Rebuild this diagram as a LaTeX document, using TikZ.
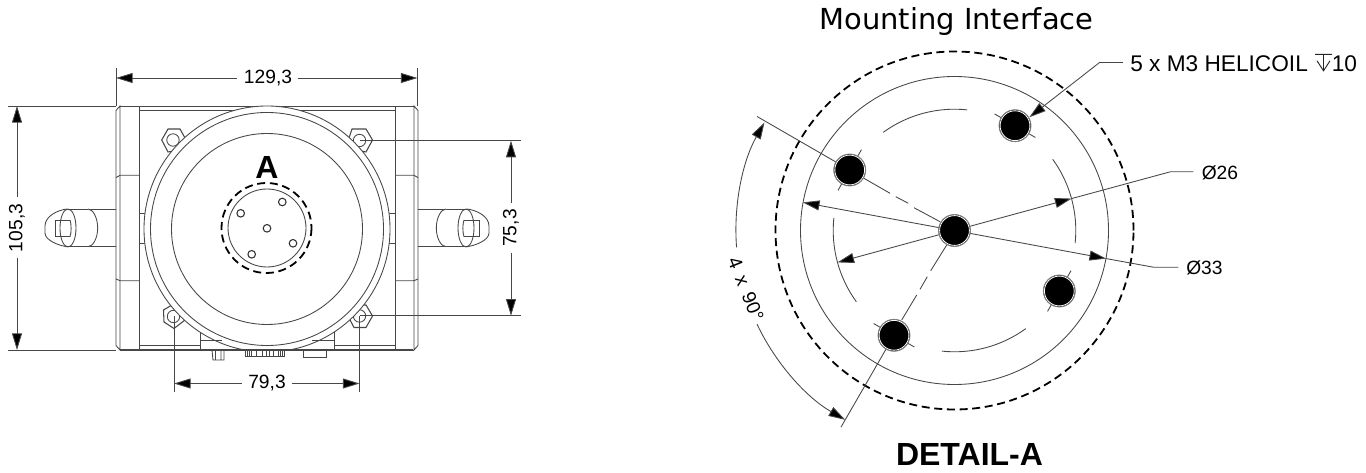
\documentclass[tikz,border=0pt]{standalone}
\usepackage{fontspec}
\setmainfont{Liberation Sans}
\newfontfamily\dvfont{DejaVu Sans}
\usetikzlibrary{arrows.meta,calc}
\tikzset{
  thin line/.style={draw=black!72,line width=0.65pt},
  dim line/.style={draw=black!72,line width=0.65pt},
  dim arrow/.style={dim line,-{Triangle[length=12.5pt,width=7.5pt,fill=black]}},
  dim text/.style={font=\fontsize{14.4}{16}\selectfont,inner sep=0pt},
  dashed ring/.style={draw=black,line width=1.35pt,dash pattern=on 6pt off 3.5pt},
  hole disc/.style={draw=black!50,line width=0.6pt,fill=black},
  hole gap/.style={draw=white,line width=0.6pt},
}
\newcommand{\dia}{Ø}
\begin{document}
\begin{tikzpicture}[x=0.75pt,y=-0.75pt]
\useasboundingbox (0,0) rectangle (1366,473);
% ---------- left view: body ----------
\foreach \x/\f in {0/1,534/-1}{
\begin{scope}[shift={(\x,0)},xscale=\f]
  \draw[thin line] (116,110.5)--(120,106)--(120,350)--(116,345.5)--cycle;
  \draw[thin line] (139,106)--(139,350);
  \draw[thin line] (120,106)--(139,106) (120,350)--(139,350);
  \draw[thin line] (116,177.6)--(120,175.3)--(139,175.3);
  \draw[thin line] (116,279)--(120,280.7)--(139,280.7);
  \draw[thin line] (139,106)--(267,106);
  \draw[thin line] (139,110.6)--(267,110.6);
  \draw[thin line] (139,213)--(146,213) (139,243)--(146,243);
  \draw[thin line] (139,345.7)--(200,345.7);
  \draw[thin line] (200,350)--(200,332);
  % handle
  \draw[thin line] (116,209)--(67,209) (116,246.7)--(67,246.7);
  \draw[thin line,fill=white] (88,209) .. controls (93,209) and (97.7,218) .. (97.7,228) .. controls (97.7,238) and (93,246.7) .. (88,246.7);
  \draw[thin line] (67,209) .. controls (58,210) and (45,216) .. (45,226) -- (45,233) .. controls (45,240) and (58,245.5) .. (67,246.7);
  \draw[thin line] (68,228) ellipse (8 and 19);
  \draw[thin line] (70,220) -- (55,220) -- (55,236.7) -- (70,236.7);
  \draw[thin line] (70,220) .. controls (71.5,224) and (71.5,233) .. (70,236.7);
\end{scope}}
% nuts
\draw[thin line,line width=0.8pt] (173,129)--(180,129)--(185,138)--(180,150)--(168,152)--(161.7,140)--(168,129)--cycle;
\draw[thin line] (173,140) circle (6.2);
\draw[thin line,line width=0.8pt] (352,129)--(366,129)--(372.5,140)--(366,152)--(355,150)--(349,138)--cycle;
\draw[thin line] (359.5,140.5) circle (6.2);
\draw[thin line,line width=0.8pt] (163.5,310)--(172,305)--(180,306)--(185,320)--(174,328.5)--(164,322)--cycle;
\draw[thin line] (173.5,316.5) circle (6.2);
\draw[thin line,line width=0.8pt] (349,318)--(358,305)--(366,305)--(372.5,316)--(366,327.5)--(354,327.5)--cycle;
\draw[thin line] (359.5,316) circle (6.2);
% round housing
\draw[thin line,fill=white] (267,229) circle (123);
\draw[thin line] (267,229) circle (116.5);
\draw[thin line] (267,229) circle (95.5);
\fill[white] (200,351) rectangle (334,353);
\draw[thin line] (200,340)--(222,340) (312,340)--(334,340);
\draw[thin line,line width=0.9pt] (120,350)--(413,350);
% bottom connectors
\draw[thin line] (212,350)--(213,360)--(224,360)--(224,350) (215.5,350)--(215.5,360) (221,350)--(221,360);
\draw[thin line] (245,350) rectangle (284,356);
\foreach \x in {247,249,251,256,262,266,269.5,273,278,280,282}{\draw[thin line] (\x,350)--(\x,356);}
\draw[thin line] (303,350) rectangle (326,357.5);
% detail A
\draw[dashed ring] (266.5,228) circle (45);
\draw[thin line] (267,228) circle (39);
\foreach \p/\q in {267/228.3,282.3/202,240.7/213.3,293/243.3,251.7/254.3}{
  \draw[draw=black!80,line width=0.8pt] (\p,\q) circle (3.8);}
\node[font=\bfseries\fontsize{24}{26}\selectfont,inner sep=0pt] (labelA) at (267,167) {A};
% ---------- left view: dimensions ----------
\coordinate (wa) at (116,78); \coordinate (wb) at (417.5,78);
\coordinate (wa0) at (116,68); \coordinate (wb0) at (417.5,68);
\coordinate (wa1) at (116,106); \coordinate (wb1) at (417.5,106);
\node[dim text] (w) at (268,78) {129,3};
\draw[dim line] (wa0)--(wa1) (wb0)--(wb1);
\draw[dim arrow] (236.5,78)--(wa);
\draw[dim arrow] (297.5,78)--(wb);
\coordinate (ha) at (17,106); \coordinate (hb) at (17,350);
\draw[dim line] (8,106)--(116,106) (8,350)--(116,350);
\node[dim text,rotate=90] (h) at (17,228) {105,3};
\draw[dim arrow] (17,197)--(ha);
\draw[dim arrow] (17,258)--(hb);
\coordinate (va) at (511,140.7); \coordinate (vb) at (511,315.7);
\draw[dim line] (359.5,140.7)--(520.7,140.7) (360,315.7)--(520.7,315.7);
\node[dim text,rotate=90] (v) at (511,228) {75,3};
\draw[dim arrow] (511,203)--(va);
\draw[dim arrow] (511,253)--(vb);
\coordinate (ba) at (174,383.5); \coordinate (bb) at (359.5,383.5);
\draw[dim line] (174,316.5)--(174,392.5) (359.5,316)--(359.5,392.5);
\node[dim text] (b) at (267,383.5) {79,3};
\draw[dim arrow] (241.5,383.5)--(ba);
\draw[dim arrow] (291.5,383.5)--(bb);
% ---------- detail ----------
\coordinate (c0) at (954.5,230.5);
\begin{scope}[shift={(954.5,230.5)},y=0.75pt]
  \draw[dashed ring] (0,0) circle (179);
  \draw[thin line] (0,0) circle (154);
  \foreach \a in {84,174,264,354}{\draw[thin line] (\a:121.3) arc[start angle=\a,end angle=\a+42,radius=121.3];}
  \draw[dim arrow] (184.4:218.6) arc[start angle=184.4,end angle=150.4,radius=218.6];
  \draw[dim arrow] (205.4:218.6) arc[start angle=205.4,end angle=240,radius=218.6];
\end{scope}
% holes and centre marks
\foreach \a/\n in {60/h1,150/h2,240/h3,330/h4}{
  \coordinate (\n) at ($(c0)+({121*cos(\a)},{-121*sin(\a)})$);
  \draw[thin line] ($(\n)+({23.5*cos(\a+90)},{-23.5*sin(\a+90)})$)--($(\n)-({23.5*cos(\a+90)},{-23.5*sin(\a+90)})$);
}
% radial centre lines
\draw[thin line] (940,221.7)--(914,207.7) (908.3,203.3)--(895.7,196.7) (890,193.3)--(864,178.3);
\draw[thin line] (946.7,245)--(930.7,270.7) (927.3,276.7)--(920,289.3) (916.7,295)--(901.7,320);
\coordinate (ra) at ($(c0)+(-150:228)$); \coordinate (ra0) at ($(c0)+(-150:136)$);
\coordinate (rb) at ($(c0)+(-240:227)$); \coordinate (rb0) at ($(c0)+(-240:136)$);
\draw[thin line] (ra0)--(ra) (rb0)--(rb);
\foreach \n in {h1,h2,h3,h4}{
  \draw[hole disc] (\n) circle (16);
  \draw[hole gap] (\n) circle (14.9);
}
\node[dim text,rotate=-68] (ang) at (746,289) {4 \,x\, 90°};
% diameter dims
\coordinate (d1) at (1170.7,171.7); \coordinate (d1t) at ($(c0)+(-15.25:121.3)$); \coordinate (d1l) at ($(c0)+(-195.25:121.3)$);
\coordinate (d2) at (1154,267.3); \coordinate (d2t) at ($(c0)+(10.5:154.2)$); \coordinate (d2l) at ($(c0)+(-169.5:154.2)$);
\node[dim text,anchor=west] (t26) at (1201.5,172.7) {\dia26};
\node[dim text,anchor=west] (t33) at (1186,268) {\dia33};
\coordinate (e26) at (1193.3,171.7); \coordinate (e33) at (1178.3,267.3);
\draw[dim line] (e26)--(d1)--(d1t);
\draw[dim line] (e33)--(d2)--(d2t);
\draw[dim arrow] (c0)--(d1t);
\draw[dim arrow] (c0)--(d1l);
\draw[dim arrow] (c0)--(d2t);
\draw[dim arrow] (c0)--(d2l);
\draw[hole disc] (c0) circle (16);
\draw[hole gap] (c0) circle (14.9);
% leader
\coordinate (l1) at (1099.3,62.7); \coordinate (l2) at (1122.7,62.7); \coordinate (ltip) at (1029.3,117.3);
\draw[dim line] (l2)--(l1);
\draw[dim arrow] (l1)--(ltip);
\node[anchor=west,inner sep=0pt,font=\fontsize{17}{19}\selectfont] (callout) at (1130,63.5) {5 x M3 HELICOIL\hspace{18pt}10};
% depth symbol
\draw[draw=black!85,line width=0.7pt] (1315,54.3)--(1332,54.3) (1323.5,54.3)--(1323.5,70.5) (1317,60.8)--(1323.5,70.8)--(1330,60.8);
\node[inner sep=0pt,font=\dvfont\fontsize{21.7}{24}\selectfont] (title) at (956.5,22) {Mounting Interface};
\node[inner sep=0pt,font=\bfseries\fontsize{24}{26}\selectfont] (detail) at (969.5,454) {DETAIL-A};
\end{tikzpicture}
\end{document}
